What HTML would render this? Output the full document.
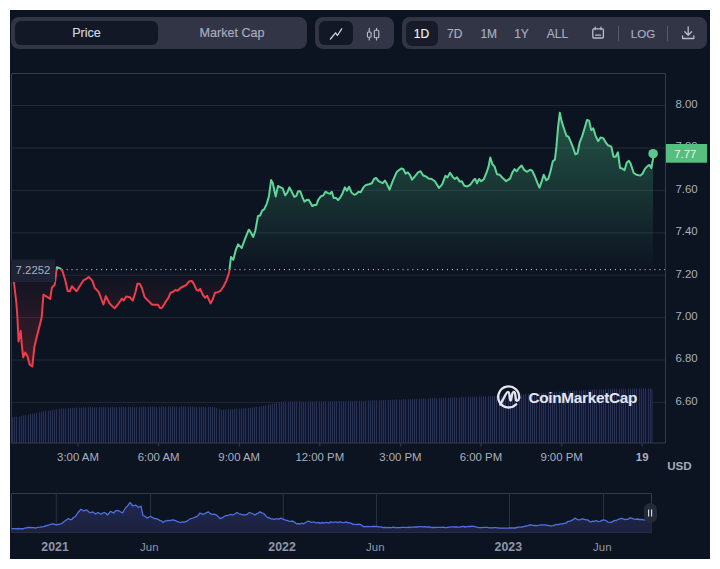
<!DOCTYPE html>
<html lang="en"><head><meta charset="utf-8"><title>Price chart</title>
<style>
html,body{margin:0;padding:0;background:#fff;}
body{width:720px;height:569px;position:relative;overflow:hidden;font-family:"Liberation Sans",Arial,sans-serif;}
.panel{position:absolute;left:10px;top:10px;width:700px;height:549px;background:#0d1421;}
.seg{position:absolute;top:17px;height:32px;background:#323546;border-radius:8px;}
.pill{position:absolute;top:4px;height:24px;background:#121826;border-radius:6px;}
.lbl{position:absolute;top:0;height:32px;line-height:32px;font-size:12.6px;color:#a9afc0;text-align:center;white-space:nowrap;-webkit-text-stroke:0.15px currentColor;}
.lbl.on{color:#d3d7e0;}
.lbl.w{color:#f2f4f8;}
.lbl.s{font-size:12px;line-height:34px;}
.div{position:absolute;top:9px;width:1px;height:15px;background:#555a6d;}
svg.chart{position:absolute;left:0;top:0;}
svg.ico{position:absolute;overflow:visible;}
.ax{font-family:"Liberation Sans",Arial,sans-serif;font-size:11.4px;fill:#a9afbf;}
.b{font-weight:bold;}
.nv{font-family:"Liberation Sans",Arial,sans-serif;font-size:11.4px;fill:#8f96a8;}
.yb{font-weight:bold;font-size:12.3px !important;}
.tag{font-family:"Liberation Sans",Arial,sans-serif;font-size:11.4px;fill:#e3f7ea;}
.usd{font-family:"Liberation Sans",Arial,sans-serif;font-size:11.6px;font-weight:bold;fill:#a3a9ba;}
.wm{font-family:"Liberation Sans",Arial,sans-serif;font-size:15.4px;font-weight:bold;fill:#e3e6ef;letter-spacing:-0.33px;}
</style></head>
<body>
<div class="panel"></div>

<div class="seg" style="left:11px;width:296px;">
  <div class="pill" style="left:4px;width:143px;"></div>
  <div class="lbl on" style="left:4px;width:143px;">Price</div>
  <div class="lbl" style="left:147px;width:148px;">Market Cap</div>
</div>

<div class="seg" style="left:315px;width:79px;">
  <div class="pill" style="left:4px;width:34px;"></div>
  <svg class="ico" style="left:0;top:0" width="79" height="32" viewBox="315 17 79 32">
    <path d="M330.4,39 L335.6,32.8 L337.4,35.5 L341.7,28.8" fill="none" stroke="#cdd1dc" stroke-width="1.3" stroke-linecap="round" stroke-linejoin="round"/>
    <g fill="none" stroke="#b4b9ca" stroke-width="1.15" stroke-linecap="round">
      <rect x="367.4" y="32" width="3.7" height="5.2" rx="1"/>
      <path d="M369.25,28.3 V32 M369.25,37.2 V39.9"/>
      <rect x="374.3" y="30.2" width="4.5" height="7.5" rx="1"/>
      <path d="M376.55,28.3 V30.2 M376.55,37.7 V39.9"/>
    </g>
  </svg>
</div>

<div class="seg" style="left:402px;width:305px;">
  <div class="pill" style="left:3.5px;width:32px;top:3.5px;height:25px;background:#181c2a;"></div>
  <div class="lbl w s" style="left:3.5px;width:32px;">1D</div>
  <div class="lbl s" style="left:36.75px;width:32px;">7D</div>
  <div class="lbl s" style="left:70.75px;width:32px;">1M</div>
  <div class="lbl s" style="left:103.5px;width:32px;">1Y</div>
  <div class="lbl s" style="left:135.5px;width:40px;">ALL</div>
  <svg class="ico" style="left:0;top:0" width="305" height="32" viewBox="402 17 305 32">
    <g fill="none" stroke="#b9bece" stroke-width="1.3" stroke-linecap="round" stroke-linejoin="round">
      <rect x="592.8" y="28.8" width="10.6" height="9.2" rx="1"/>
      <path d="M595.2,27.2 V29.6 M601,27.2 V29.6 M595.6,35.2 H600.6"/>
      <path d="M688.2,27 V35 M684.8,31.8 L688.2,35.2 L691.6,31.8 M682.6,35.8 V38.5 H693.8 V35.8"/>
    </g>
  </svg>
  <div class="div" style="left:216px;"></div>
  <div class="lbl s" style="left:221px;width:40px;font-size:11.5px;">LOG</div>
  <div class="div" style="left:265px;"></div>
</div>

<svg class="chart" width="720" height="569" viewBox="0 0 720 569">
<defs>
<linearGradient id="gG" gradientUnits="userSpaceOnUse" x1="0" y1="73.5" x2="0" y2="269.5"><stop offset="0" stop-color="#4ecb8c" stop-opacity="0.44"/><stop offset="1" stop-color="#4ecb8c" stop-opacity="0"/></linearGradient>
<linearGradient id="gR" gradientUnits="userSpaceOnUse" x1="0" y1="269.5" x2="0" y2="443"><stop offset="0" stop-color="#ea3943" stop-opacity="0"/><stop offset="1" stop-color="#ea3943" stop-opacity="0.42"/></linearGradient>
<linearGradient id="gN" gradientUnits="userSpaceOnUse" x1="0" y1="500" x2="0" y2="533"><stop offset="0" stop-color="#22284e"/><stop offset="1" stop-color="#1b213d"/></linearGradient>
<clipPath id="cA"><rect x="0" y="0" width="720" height="269.5"/></clipPath>
<clipPath id="cB"><rect x="0" y="269.5" width="720" height="300"/></clipPath>
</defs>
<line x1="11" y1="105.5" x2="666" y2="105.5" stroke="#222838" stroke-width="1"/>
<line x1="11" y1="148" x2="666" y2="148" stroke="#222838" stroke-width="1"/>
<line x1="11" y1="190.4" x2="666" y2="190.4" stroke="#222838" stroke-width="1"/>
<line x1="11" y1="232.8" x2="666" y2="232.8" stroke="#222838" stroke-width="1"/>
<line x1="11" y1="275.2" x2="666" y2="275.2" stroke="#222838" stroke-width="1"/>
<line x1="11" y1="317.6" x2="666" y2="317.6" stroke="#222838" stroke-width="1"/>
<line x1="11" y1="360" x2="666" y2="360" stroke="#222838" stroke-width="1"/>
<line x1="11" y1="402.4" x2="666" y2="402.4" stroke="#222838" stroke-width="1"/>
<path d="M12.0,417.4 L14.2,417.4 L14.2,417.3 L16.4,417.3 L16.4,417.2 L18.7,417.2 L18.7,417.0 L20.9,417.0 L20.9,416.5 L23.1,416.5 L23.1,415.9 L25.3,415.9 L25.3,415.4 L27.6,415.4 L27.6,414.8 L29.8,414.8 L29.8,414.3 L32.0,414.3 L32.0,413.9 L34.2,413.9 L34.2,413.5 L36.4,413.5 L36.4,413.1 L38.7,413.1 L38.7,412.7 L40.9,412.7 L40.9,412.3 L43.1,412.3 L43.1,411.8 L45.3,411.8 L45.3,411.5 L47.6,411.5 L47.6,411.1 L49.8,411.1 L49.8,410.7 L52.0,410.7 L52.0,410.3 L54.2,410.3 L54.2,410.0 L56.4,410.0 L56.4,409.6 L58.7,409.6 L58.7,409.2 L60.9,409.2 L60.9,408.9 L63.1,408.9 L63.1,408.8 L65.3,408.8 L65.3,408.7 L67.6,408.7 L67.6,408.5 L69.8,408.5 L69.8,408.4 L72.0,408.4 L72.0,408.2 L74.2,408.2 L74.2,408.1 L76.4,408.1 L76.4,408.0 L78.7,408.0 L78.7,407.8 L80.9,407.8 L80.9,407.8 L83.1,407.8 L83.1,407.8 L85.3,407.8 L85.3,407.7 L87.6,407.7 L87.6,407.7 L89.8,407.7 L89.8,407.7 L92.0,407.7 L92.0,407.7 L94.2,407.7 L94.2,407.7 L96.4,407.7 L96.4,407.7 L98.7,407.7 L98.7,407.6 L100.9,407.6 L100.9,407.6 L103.1,407.6 L103.1,407.6 L105.3,407.6 L105.3,407.6 L107.6,407.6 L107.6,407.6 L109.8,407.6 L109.8,407.6 L112.0,407.6 L112.0,407.5 L114.2,407.5 L114.2,407.5 L116.4,407.5 L116.4,407.5 L118.7,407.5 L118.7,407.5 L120.9,407.5 L120.9,407.5 L123.1,407.5 L123.1,407.4 L125.3,407.4 L125.3,407.4 L127.6,407.4 L127.6,407.4 L129.8,407.4 L129.8,407.4 L132.0,407.4 L132.0,407.4 L134.2,407.4 L134.2,407.4 L136.4,407.4 L136.4,407.3 L138.7,407.3 L138.7,407.3 L140.9,407.3 L140.9,407.3 L143.1,407.3 L143.1,407.3 L145.3,407.3 L145.3,407.3 L147.6,407.3 L147.6,407.3 L149.8,407.3 L149.8,407.2 L152.0,407.2 L152.0,407.2 L154.2,407.2 L154.2,407.2 L156.4,407.2 L156.4,407.2 L158.7,407.2 L158.7,407.2 L160.9,407.2 L160.9,407.1 L163.1,407.1 L163.1,407.1 L165.3,407.1 L165.3,407.1 L167.6,407.1 L167.6,407.1 L169.8,407.1 L169.8,407.1 L172.0,407.1 L172.0,407.1 L174.2,407.1 L174.2,407.0 L176.4,407.0 L176.4,407.0 L178.7,407.0 L178.7,407.0 L180.9,407.0 L180.9,407.0 L183.1,407.0 L183.1,407.1 L185.3,407.1 L185.3,407.1 L187.6,407.1 L187.6,407.1 L189.8,407.1 L189.8,407.2 L192.0,407.2 L192.0,407.2 L194.2,407.2 L194.2,407.2 L196.4,407.2 L196.4,407.3 L198.7,407.3 L198.7,407.3 L200.9,407.3 L200.9,407.3 L203.1,407.3 L203.1,407.3 L205.3,407.3 L205.3,407.4 L207.6,407.4 L207.6,407.4 L209.8,407.4 L209.8,407.4 L212.0,407.4 L212.0,407.5 L214.2,407.5 L214.2,407.6 L216.4,407.6 L216.4,408.4 L218.7,408.4 L218.7,409.2 L220.9,409.2 L220.9,410.0 L223.1,410.0 L223.1,409.9 L225.3,409.9 L225.3,409.7 L227.6,409.7 L227.6,409.6 L229.8,409.6 L229.8,409.5 L232.0,409.5 L232.0,409.4 L234.2,409.4 L234.2,409.3 L236.4,409.3 L236.4,409.1 L238.7,409.1 L238.7,409.0 L240.9,409.0 L240.9,408.9 L243.1,408.9 L243.1,408.8 L245.3,408.8 L245.3,408.6 L247.6,408.6 L247.6,408.4 L249.8,408.4 L249.8,408.1 L252.0,408.1 L252.0,407.8 L254.2,407.8 L254.2,407.6 L256.4,407.6 L256.4,407.3 L258.7,407.3 L258.7,407.0 L260.9,407.0 L260.9,406.6 L263.1,406.6 L263.1,406.1 L265.3,406.1 L265.3,405.6 L267.6,405.6 L267.6,405.2 L269.8,405.2 L269.8,404.7 L272.0,404.7 L272.0,404.2 L274.2,404.2 L274.2,403.7 L276.4,403.7 L276.4,403.1 L278.7,403.1 L278.7,402.6 L280.9,402.6 L280.9,402.0 L283.1,402.0 L283.1,402.0 L285.3,402.0 L285.3,402.0 L287.6,402.0 L287.6,401.9 L289.8,401.9 L289.8,401.9 L292.0,401.9 L292.0,401.9 L294.2,401.9 L294.2,401.9 L296.4,401.9 L296.4,401.9 L298.7,401.9 L298.7,401.8 L300.9,401.8 L300.9,401.8 L303.1,401.8 L303.1,401.8 L305.3,401.8 L305.3,401.8 L307.6,401.8 L307.6,401.8 L309.8,401.8 L309.8,401.7 L312.0,401.7 L312.0,401.7 L314.2,401.7 L314.2,401.7 L316.4,401.7 L316.4,401.7 L318.7,401.7 L318.7,401.7 L320.9,401.7 L320.9,401.6 L323.1,401.6 L323.1,401.6 L325.3,401.6 L325.3,401.6 L327.6,401.6 L327.6,401.6 L329.8,401.6 L329.8,401.6 L332.0,401.6 L332.0,401.5 L334.2,401.5 L334.2,401.5 L336.4,401.5 L336.4,401.5 L338.7,401.5 L338.7,401.5 L340.9,401.5 L340.9,401.5 L343.1,401.5 L343.1,401.4 L345.3,401.4 L345.3,401.4 L347.6,401.4 L347.6,401.4 L349.8,401.4 L349.8,401.4 L352.0,401.4 L352.0,401.4 L354.2,401.4 L354.2,401.3 L356.4,401.3 L356.4,401.3 L358.7,401.3 L358.7,401.3 L360.9,401.3 L360.9,401.2 L363.1,401.2 L363.1,401.2 L365.3,401.2 L365.3,401.1 L367.6,401.1 L367.6,401.0 L369.8,401.0 L369.8,400.9 L372.0,400.9 L372.0,400.8 L374.2,400.8 L374.2,400.8 L376.4,400.8 L376.4,400.7 L378.7,400.7 L378.7,400.6 L380.9,400.6 L380.9,400.5 L383.1,400.5 L383.1,400.4 L385.3,400.4 L385.3,400.4 L387.6,400.4 L387.6,400.3 L389.8,400.3 L389.8,400.2 L392.0,400.2 L392.0,400.1 L394.2,400.1 L394.2,400.1 L396.4,400.1 L396.4,400.0 L398.7,400.0 L398.7,399.9 L400.9,399.9 L400.9,399.8 L403.1,399.8 L403.1,399.7 L405.3,399.7 L405.3,399.7 L407.6,399.7 L407.6,399.6 L409.8,399.6 L409.8,399.5 L412.0,399.5 L412.0,399.4 L414.2,399.4 L414.2,399.3 L416.4,399.3 L416.4,399.3 L418.7,399.3 L418.7,399.2 L420.9,399.2 L420.9,399.1 L423.1,399.1 L423.1,399.0 L425.3,399.0 L425.3,399.0 L427.6,399.0 L427.6,398.9 L429.8,398.9 L429.8,398.8 L432.0,398.8 L432.0,398.7 L434.2,398.7 L434.2,398.6 L436.4,398.6 L436.4,398.6 L438.7,398.6 L438.7,398.5 L440.9,398.5 L440.9,398.4 L443.1,398.4 L443.1,398.3 L445.3,398.3 L445.3,398.2 L447.6,398.2 L447.6,398.2 L449.8,398.2 L449.8,398.1 L452.0,398.1 L452.0,398.0 L454.2,398.0 L454.2,397.9 L456.4,397.9 L456.4,397.8 L458.7,397.8 L458.7,397.7 L460.9,397.7 L460.9,397.6 L463.1,397.6 L463.1,397.5 L465.3,397.5 L465.3,397.4 L467.6,397.4 L467.6,397.3 L469.8,397.3 L469.8,397.2 L472.0,397.2 L472.0,397.2 L474.2,397.2 L474.2,397.1 L476.4,397.1 L476.4,397.0 L478.7,397.0 L478.7,396.9 L480.9,396.9 L480.9,396.8 L483.1,396.8 L483.1,396.8 L485.3,396.8 L485.3,396.7 L487.6,396.7 L487.6,396.6 L489.8,396.6 L489.8,396.6 L492.0,396.6 L492.0,396.5 L494.2,396.5 L494.2,396.4 L496.4,396.4 L496.4,396.4 L498.7,396.4 L498.7,396.3 L500.9,396.3 L500.9,396.2 L503.1,396.2 L503.1,396.0 L505.3,396.0 L505.3,395.8 L507.6,395.8 L507.6,395.7 L509.8,395.7 L509.8,395.5 L512.0,395.5 L512.0,395.4 L514.2,395.4 L514.2,395.2 L516.4,395.2 L516.4,395.1 L518.7,395.1 L518.7,394.9 L520.9,394.9 L520.9,394.7 L523.1,394.7 L523.1,394.6 L525.3,394.6 L525.3,394.4 L527.6,394.4 L527.6,394.3 L529.8,394.3 L529.8,394.1 L532.0,394.1 L532.0,394.0 L534.2,394.0 L534.2,393.8 L536.4,393.8 L536.4,393.6 L538.7,393.6 L538.7,393.5 L540.9,393.5 L540.9,393.3 L543.1,393.3 L543.1,393.2 L545.3,393.2 L545.3,393.0 L547.6,393.0 L547.6,392.9 L549.8,392.9 L549.8,392.7 L552.0,392.7 L552.0,392.5 L554.2,392.5 L554.2,392.4 L556.4,392.4 L556.4,392.2 L558.7,392.2 L558.7,392.1 L560.9,392.1 L560.9,391.9 L563.1,391.9 L563.1,391.8 L565.3,391.8 L565.3,391.6 L567.6,391.6 L567.6,391.4 L569.8,391.4 L569.8,391.3 L572.0,391.3 L572.0,391.1 L574.2,391.1 L574.2,391.0 L576.4,391.0 L576.4,390.9 L578.7,390.9 L578.7,390.8 L580.9,390.8 L580.9,390.7 L583.1,390.7 L583.1,390.6 L585.3,390.6 L585.3,390.4 L587.6,390.4 L587.6,390.3 L589.8,390.3 L589.8,390.2 L592.0,390.2 L592.0,390.1 L594.2,390.1 L594.2,390.0 L596.4,390.0 L596.4,389.9 L598.7,389.9 L598.7,389.8 L600.9,389.8 L600.9,389.7 L603.1,389.7 L603.1,389.6 L605.3,389.6 L605.3,389.5 L607.6,389.5 L607.6,389.4 L609.8,389.4 L609.8,389.3 L612.0,389.3 L612.0,389.3 L614.2,389.3 L614.2,389.2 L616.4,389.2 L616.4,389.2 L618.7,389.2 L618.7,389.2 L620.9,389.2 L620.9,389.2 L623.1,389.2 L623.1,389.1 L625.3,389.1 L625.3,389.1 L627.6,389.1 L627.6,389.1 L629.8,389.1 L629.8,389.1 L632.0,389.1 L632.0,389.0 L634.2,389.0 L634.2,389.0 L636.4,389.0 L636.4,389.0 L638.7,389.0 L638.7,388.9 L640.9,388.9 L640.9,388.9 L643.1,388.9 L643.1,388.9 L645.3,388.9 L645.3,388.9 L647.6,388.9 L647.6,388.8 L649.8,388.8 L649.8,388.8 L652.0,388.8 L652.0,443 L12.0,443 Z" fill="#0e1532"/>
<path d="M12.5,417.0V443 M14.5,416.9V443 M16.5,416.8V443 M19.5,416.6V443 M21.5,416.1V443 M23.5,415.5V443 M25.5,415.0V443 M28.5,414.4V443 M30.5,413.9V443 M32.5,413.5V443 M34.5,413.1V443 M36.5,412.7V443 M39.5,412.3V443 M41.5,411.9V443 M43.5,411.4V443 M45.5,411.1V443 M48.5,410.7V443 M50.5,410.3V443 M52.5,409.9V443 M54.5,409.6V443 M56.5,409.2V443 M59.5,408.8V443 M61.5,408.5V443 M63.5,408.4V443 M65.5,408.3V443 M68.5,408.1V443 M70.5,408.0V443 M72.5,407.8V443 M74.5,407.7V443 M76.5,407.6V443 M79.5,407.4V443 M81.5,407.4V443 M83.5,407.4V443 M85.5,407.3V443 M88.5,407.3V443 M90.5,407.3V443 M92.5,407.3V443 M94.5,407.3V443 M96.5,407.3V443 M99.5,407.2V443 M101.5,407.2V443 M103.5,407.2V443 M105.5,407.2V443 M108.5,407.2V443 M110.5,407.2V443 M112.5,407.1V443 M114.5,407.1V443 M116.5,407.1V443 M119.5,407.1V443 M121.5,407.1V443 M123.5,407.0V443 M125.5,407.0V443 M128.5,407.0V443 M130.5,407.0V443 M132.5,407.0V443 M134.5,407.0V443 M136.5,406.9V443 M139.5,406.9V443 M141.5,406.9V443 M143.5,406.9V443 M145.5,406.9V443 M148.5,406.9V443 M150.5,406.8V443 M152.5,406.8V443 M154.5,406.8V443 M156.5,406.8V443 M159.5,406.8V443 M161.5,406.7V443 M163.5,406.7V443 M165.5,406.7V443 M168.5,406.7V443 M170.5,406.7V443 M172.5,406.7V443 M174.5,406.6V443 M176.5,406.6V443 M179.5,406.6V443 M181.5,406.6V443 M183.5,406.7V443 M185.5,406.7V443 M188.5,406.7V443 M190.5,406.8V443 M192.5,406.8V443 M194.5,406.8V443 M196.5,406.9V443 M199.5,406.9V443 M201.5,406.9V443 M203.5,406.9V443 M205.5,407.0V443 M208.5,407.0V443 M210.5,407.0V443 M212.5,407.1V443 M214.5,407.2V443 M216.5,408.0V443 M219.5,408.8V443 M221.5,409.6V443 M223.5,409.5V443 M225.5,409.3V443 M228.5,409.2V443 M230.5,409.1V443 M232.5,409.0V443 M234.5,408.9V443 M236.5,408.7V443 M239.5,408.6V443 M241.5,408.5V443 M243.5,408.4V443 M245.5,408.2V443 M248.5,408.0V443 M250.5,407.7V443 M252.5,407.4V443 M254.5,407.2V443 M256.5,406.9V443 M259.5,406.6V443 M261.5,406.2V443 M263.5,405.7V443 M265.5,405.2V443 M268.5,404.8V443 M270.5,404.3V443 M272.5,403.8V443 M274.5,403.3V443 M276.5,402.7V443 M279.5,402.2V443 M281.5,401.6V443 M283.5,401.6V443 M285.5,401.6V443 M288.5,401.5V443 M290.5,401.5V443 M292.5,401.5V443 M294.5,401.5V443 M296.5,401.5V443 M299.5,401.4V443 M301.5,401.4V443 M303.5,401.4V443 M305.5,401.4V443 M308.5,401.4V443 M310.5,401.3V443 M312.5,401.3V443 M314.5,401.3V443 M316.5,401.3V443 M319.5,401.3V443 M321.5,401.2V443 M323.5,401.2V443 M325.5,401.2V443 M328.5,401.2V443 M330.5,401.2V443 M332.5,401.1V443 M334.5,401.1V443 M336.5,401.1V443 M339.5,401.1V443 M341.5,401.1V443 M343.5,401.0V443 M345.5,401.0V443 M348.5,401.0V443 M350.5,401.0V443 M352.5,401.0V443 M354.5,400.9V443 M356.5,400.9V443 M359.5,400.9V443 M361.5,400.8V443 M363.5,400.8V443 M365.5,400.7V443 M368.5,400.6V443 M370.5,400.5V443 M372.5,400.4V443 M374.5,400.4V443 M376.5,400.3V443 M379.5,400.2V443 M381.5,400.1V443 M383.5,400.0V443 M385.5,400.0V443 M388.5,399.9V443 M390.5,399.8V443 M392.5,399.7V443 M394.5,399.7V443 M396.5,399.6V443 M399.5,399.5V443 M401.5,399.4V443 M403.5,399.3V443 M405.5,399.3V443 M408.5,399.2V443 M410.5,399.1V443 M412.5,399.0V443 M414.5,398.9V443 M416.5,398.9V443 M419.5,398.8V443 M421.5,398.7V443 M423.5,398.6V443 M425.5,398.6V443 M428.5,398.5V443 M430.5,398.4V443 M432.5,398.3V443 M434.5,398.2V443 M436.5,398.2V443 M439.5,398.1V443 M441.5,398.0V443 M443.5,397.9V443 M445.5,397.8V443 M448.5,397.8V443 M450.5,397.7V443 M452.5,397.6V443 M454.5,397.5V443 M456.5,397.4V443 M459.5,397.3V443 M461.5,397.2V443 M463.5,397.1V443 M465.5,397.0V443 M468.5,396.9V443 M470.5,396.8V443 M472.5,396.8V443 M474.5,396.7V443 M476.5,396.6V443 M479.5,396.5V443 M481.5,396.4V443 M483.5,396.4V443 M485.5,396.3V443 M488.5,396.2V443 M490.5,396.2V443 M492.5,396.1V443 M494.5,396.0V443 M496.5,396.0V443 M499.5,395.9V443 M501.5,395.8V443 M503.5,395.6V443 M505.5,395.4V443 M508.5,395.3V443 M510.5,395.1V443 M512.5,395.0V443 M514.5,394.8V443 M516.5,394.7V443 M519.5,394.5V443 M521.5,394.3V443 M523.5,394.2V443 M525.5,394.0V443 M528.5,393.9V443 M530.5,393.7V443 M532.5,393.6V443 M534.5,393.4V443 M536.5,393.2V443 M539.5,393.1V443 M541.5,392.9V443 M543.5,392.8V443 M545.5,392.6V443 M548.5,392.5V443 M550.5,392.3V443 M552.5,392.1V443 M554.5,392.0V443 M556.5,391.8V443 M559.5,391.7V443 M561.5,391.5V443 M563.5,391.4V443 M565.5,391.2V443 M568.5,391.0V443 M570.5,390.9V443 M572.5,390.7V443 M574.5,390.6V443 M576.5,390.5V443 M579.5,390.4V443 M581.5,390.3V443 M583.5,390.2V443 M585.5,390.0V443 M588.5,389.9V443 M590.5,389.8V443 M592.5,389.7V443 M594.5,389.6V443 M596.5,389.5V443 M599.5,389.4V443 M601.5,389.3V443 M603.5,389.2V443 M605.5,389.1V443 M608.5,389.0V443 M610.5,388.9V443 M612.5,388.9V443 M614.5,388.8V443 M616.5,388.8V443 M619.5,388.8V443 M621.5,388.8V443 M623.5,388.7V443 M625.5,388.7V443 M628.5,388.7V443 M630.5,388.7V443 M632.5,388.6V443 M634.5,388.6V443 M636.5,388.6V443 M639.5,388.5V443 M641.5,388.5V443 M643.5,388.5V443 M645.5,388.5V443 M648.5,388.4V443 M650.5,388.4V443 M652.00,388.8V443" stroke="#283250" stroke-width="1" fill="none"/>
<path d="M13.9,282.0 L16.4,303.5 L17.5,318.3 L18.5,341.5 L20.7,331.0 L21.7,343.6 L23.2,357.3 L25.3,352.5 L27.4,356.3 L29.7,364.7 L32.3,366.4 L34.4,346.8 L37.5,334.1 L40.7,321.5 L41.8,316.2 L43.4,294.7 L47.0,296.8 L50.2,298.9 L51.9,287.7 L54.8,284.5 L56.9,267.2 L59.7,268.1 L62.4,270.8 L65.0,279.3 L67.7,290.9 L69.8,291.3 L71.9,286.2 L76.6,291.3 L80.8,284.5 L83.5,280.3 L86.2,278.9 L88.6,276.9 L92.3,280.6 L94.8,288.0 L98.5,291.7 L103.4,304.5 L105.9,296.1 L109.6,303.5 L114.5,308.4 L118.2,304.0 L121.9,298.6 L123.7,300.6 L126.2,296.4 L129.8,297.2 L132.7,300.6 L135.5,292.2 L137.4,283.7 L139.7,283.7 L141.9,288.0 L144.7,297.2 L148.1,300.6 L152.3,304.8 L158.0,304.8 L160.2,308.2 L162.2,307.6 L165.0,302.9 L168.4,297.8 L170.6,292.7 L173.4,291.6 L175.4,289.9 L177.6,290.8 L180.4,288.0 L183.3,286.5 L186.1,285.1 L188.9,281.5 L191.7,280.9 L193.7,283.7 L196.5,289.9 L198.7,290.8 L200.1,288.8 L202.9,295.0 L205.2,297.8 L207.2,295.8 L210.5,303.4 L212.8,299.2 L215.0,292.7 L217.8,292.2 L220.6,290.8 L223.5,286.5 L226.3,280.9 L229.1,272.5 L229.6,268.3 L231.0,257.0 L233.3,259.8 L235.8,250.0 L238.1,244.4 L241.7,248.0 L245.1,238.7 L248.8,229.7 L250.0,231.1 L253.2,237.0 L255.3,230.7 L258.0,215.9 L260.1,215.5 L262.2,210.6 L264.3,209.2 L266.9,203.3 L269.0,195.9 L271.1,180.1 L272.8,183.2 L275.7,196.5 L278.0,186.0 L280.6,187.4 L282.7,188.5 L285.2,195.3 L287.3,192.7 L289.4,187.4 L291.7,191.7 L294.3,196.9 L296.4,195.9 L298.1,191.2 L300.2,191.2 L302.3,196.9 L304.4,201.6 L306.5,200.1 L308.6,199.7 L310.7,203.3 L312.2,206.0 L314.3,205.0 L316.4,205.0 L318.1,200.1 L320.6,196.5 L323.4,195.3 L325.5,191.7 L328.0,193.1 L330.1,193.8 L331.8,191.7 L333.7,198.0 L336.0,198.0 L338.1,200.1 L340.7,196.9 L342.8,192.7 L344.9,187.4 L347.0,190.6 L349.1,186.8 L351.6,192.7 L354.4,194.8 L356.5,193.8 L358.6,191.7 L360.7,192.3 L363.4,187.4 L366.0,184.9 L369.1,184.3 L371.9,183.2 L374.0,179.0 L376.1,178.0 L378.6,181.1 L380.7,182.2 L382.8,183.2 L384.9,180.5 L387.1,184.3 L389.5,189.6 L392.7,181.2 L396.9,171.7 L401.1,168.5 L403.2,168.9 L405.7,173.8 L407.8,172.3 L409.9,174.8 L412.0,179.7 L414.8,176.5 L418.0,172.3 L420.5,171.2 L423.2,175.5 L426.0,176.5 L428.5,178.6 L431.7,179.0 L434.8,181.2 L439.0,187.9 L442.2,184.3 L445.4,175.9 L447.5,177.4 L450.0,172.7 L452.7,176.9 L454.8,179.0 L457.0,177.4 L459.7,181.6 L461.8,181.2 L464.3,185.8 L467.5,186.4 L470.7,184.3 L473.8,179.7 L475.3,179.0 L477.0,183.3 L479.1,179.0 L481.2,181.2 L483.7,179.5 L486.5,172.7 L488.6,166.4 L490.3,157.5 L492.4,164.3 L494.5,166.4 L497.0,174.2 L499.8,174.8 L502.7,178.0 L506.1,181.2 L510.0,178.6 L512.5,172.2 L514.6,169.1 L516.7,171.2 L518.9,168.0 L521.6,165.5 L524.3,170.1 L527.3,171.8 L530.0,169.7 L532.1,170.6 L534.9,176.5 L537.4,182.8 L539.5,187.6 L541.6,181.7 L543.7,174.8 L546.3,180.3 L548.4,178.6 L550.5,171.2 L552.8,161.3 L554.9,159.6 L556.4,146.9 L558.1,126.9 L559.8,112.8 L561.7,121.6 L563.8,128.0 L566.5,136.0 L568.6,136.8 L571.1,142.7 L573.2,148.0 L575.4,154.3 L577.5,153.3 L579.6,142.7 L582.1,136.4 L584.8,127.5 L587.0,119.9 L589.1,120.6 L591.2,130.1 L593.3,128.4 L595.4,135.3 L598.1,141.2 L600.7,137.4 L603.2,138.1 L605.9,142.7 L608.0,145.3 L611.3,146.6 L613.5,156.7 L615.7,156.7 L617.9,152.3 L620.1,168.1 L622.3,168.6 L624.5,170.3 L626.7,162.8 L628.9,160.8 L630.7,163.7 L633.7,173.0 L636.4,174.7 L640.3,175.6 L642.5,173.8 L645.1,168.6 L647.8,165.9 L649.5,165.0 L651.3,168.1 L653.1,158.5 L653.1,153.6 L653.1,269.5 L13.9,269.5 Z" fill="url(#gG)" clip-path="url(#cA)"/>
<path d="M13.9,282.0 L16.4,303.5 L17.5,318.3 L18.5,341.5 L20.7,331.0 L21.7,343.6 L23.2,357.3 L25.3,352.5 L27.4,356.3 L29.7,364.7 L32.3,366.4 L34.4,346.8 L37.5,334.1 L40.7,321.5 L41.8,316.2 L43.4,294.7 L47.0,296.8 L50.2,298.9 L51.9,287.7 L54.8,284.5 L56.9,267.2 L59.7,268.1 L62.4,270.8 L65.0,279.3 L67.7,290.9 L69.8,291.3 L71.9,286.2 L76.6,291.3 L80.8,284.5 L83.5,280.3 L86.2,278.9 L88.6,276.9 L92.3,280.6 L94.8,288.0 L98.5,291.7 L103.4,304.5 L105.9,296.1 L109.6,303.5 L114.5,308.4 L118.2,304.0 L121.9,298.6 L123.7,300.6 L126.2,296.4 L129.8,297.2 L132.7,300.6 L135.5,292.2 L137.4,283.7 L139.7,283.7 L141.9,288.0 L144.7,297.2 L148.1,300.6 L152.3,304.8 L158.0,304.8 L160.2,308.2 L162.2,307.6 L165.0,302.9 L168.4,297.8 L170.6,292.7 L173.4,291.6 L175.4,289.9 L177.6,290.8 L180.4,288.0 L183.3,286.5 L186.1,285.1 L188.9,281.5 L191.7,280.9 L193.7,283.7 L196.5,289.9 L198.7,290.8 L200.1,288.8 L202.9,295.0 L205.2,297.8 L207.2,295.8 L210.5,303.4 L212.8,299.2 L215.0,292.7 L217.8,292.2 L220.6,290.8 L223.5,286.5 L226.3,280.9 L229.1,272.5 L229.6,268.3 L231.0,257.0 L233.3,259.8 L235.8,250.0 L238.1,244.4 L241.7,248.0 L245.1,238.7 L248.8,229.7 L250.0,231.1 L253.2,237.0 L255.3,230.7 L258.0,215.9 L260.1,215.5 L262.2,210.6 L264.3,209.2 L266.9,203.3 L269.0,195.9 L271.1,180.1 L272.8,183.2 L275.7,196.5 L278.0,186.0 L280.6,187.4 L282.7,188.5 L285.2,195.3 L287.3,192.7 L289.4,187.4 L291.7,191.7 L294.3,196.9 L296.4,195.9 L298.1,191.2 L300.2,191.2 L302.3,196.9 L304.4,201.6 L306.5,200.1 L308.6,199.7 L310.7,203.3 L312.2,206.0 L314.3,205.0 L316.4,205.0 L318.1,200.1 L320.6,196.5 L323.4,195.3 L325.5,191.7 L328.0,193.1 L330.1,193.8 L331.8,191.7 L333.7,198.0 L336.0,198.0 L338.1,200.1 L340.7,196.9 L342.8,192.7 L344.9,187.4 L347.0,190.6 L349.1,186.8 L351.6,192.7 L354.4,194.8 L356.5,193.8 L358.6,191.7 L360.7,192.3 L363.4,187.4 L366.0,184.9 L369.1,184.3 L371.9,183.2 L374.0,179.0 L376.1,178.0 L378.6,181.1 L380.7,182.2 L382.8,183.2 L384.9,180.5 L387.1,184.3 L389.5,189.6 L392.7,181.2 L396.9,171.7 L401.1,168.5 L403.2,168.9 L405.7,173.8 L407.8,172.3 L409.9,174.8 L412.0,179.7 L414.8,176.5 L418.0,172.3 L420.5,171.2 L423.2,175.5 L426.0,176.5 L428.5,178.6 L431.7,179.0 L434.8,181.2 L439.0,187.9 L442.2,184.3 L445.4,175.9 L447.5,177.4 L450.0,172.7 L452.7,176.9 L454.8,179.0 L457.0,177.4 L459.7,181.6 L461.8,181.2 L464.3,185.8 L467.5,186.4 L470.7,184.3 L473.8,179.7 L475.3,179.0 L477.0,183.3 L479.1,179.0 L481.2,181.2 L483.7,179.5 L486.5,172.7 L488.6,166.4 L490.3,157.5 L492.4,164.3 L494.5,166.4 L497.0,174.2 L499.8,174.8 L502.7,178.0 L506.1,181.2 L510.0,178.6 L512.5,172.2 L514.6,169.1 L516.7,171.2 L518.9,168.0 L521.6,165.5 L524.3,170.1 L527.3,171.8 L530.0,169.7 L532.1,170.6 L534.9,176.5 L537.4,182.8 L539.5,187.6 L541.6,181.7 L543.7,174.8 L546.3,180.3 L548.4,178.6 L550.5,171.2 L552.8,161.3 L554.9,159.6 L556.4,146.9 L558.1,126.9 L559.8,112.8 L561.7,121.6 L563.8,128.0 L566.5,136.0 L568.6,136.8 L571.1,142.7 L573.2,148.0 L575.4,154.3 L577.5,153.3 L579.6,142.7 L582.1,136.4 L584.8,127.5 L587.0,119.9 L589.1,120.6 L591.2,130.1 L593.3,128.4 L595.4,135.3 L598.1,141.2 L600.7,137.4 L603.2,138.1 L605.9,142.7 L608.0,145.3 L611.3,146.6 L613.5,156.7 L615.7,156.7 L617.9,152.3 L620.1,168.1 L622.3,168.6 L624.5,170.3 L626.7,162.8 L628.9,160.8 L630.7,163.7 L633.7,173.0 L636.4,174.7 L640.3,175.6 L642.5,173.8 L645.1,168.6 L647.8,165.9 L649.5,165.0 L651.3,168.1 L653.1,158.5 L653.1,153.6 L653.1,269.5 L13.9,269.5 Z" fill="url(#gR)" clip-path="url(#cB)"/>
<line x1="57.2" y1="269.5" x2="666" y2="269.5" stroke="#d4d7de" stroke-width="1.25" stroke-linecap="round" stroke-dasharray="0.01 4.93"/>
<path d="M13.9,282.0 L16.4,303.5 L17.5,318.3 L18.5,341.5 L20.7,331.0 L21.7,343.6 L23.2,357.3 L25.3,352.5 L27.4,356.3 L29.7,364.7 L32.3,366.4 L34.4,346.8 L37.5,334.1 L40.7,321.5 L41.8,316.2 L43.4,294.7 L47.0,296.8 L50.2,298.9 L51.9,287.7 L54.8,284.5 L56.9,267.2 L59.7,268.1 L62.4,270.8 L65.0,279.3 L67.7,290.9 L69.8,291.3 L71.9,286.2 L76.6,291.3 L80.8,284.5 L83.5,280.3 L86.2,278.9 L88.6,276.9 L92.3,280.6 L94.8,288.0 L98.5,291.7 L103.4,304.5 L105.9,296.1 L109.6,303.5 L114.5,308.4 L118.2,304.0 L121.9,298.6 L123.7,300.6 L126.2,296.4 L129.8,297.2 L132.7,300.6 L135.5,292.2 L137.4,283.7 L139.7,283.7 L141.9,288.0 L144.7,297.2 L148.1,300.6 L152.3,304.8 L158.0,304.8 L160.2,308.2 L162.2,307.6 L165.0,302.9 L168.4,297.8 L170.6,292.7 L173.4,291.6 L175.4,289.9 L177.6,290.8 L180.4,288.0 L183.3,286.5 L186.1,285.1 L188.9,281.5 L191.7,280.9 L193.7,283.7 L196.5,289.9 L198.7,290.8 L200.1,288.8 L202.9,295.0 L205.2,297.8 L207.2,295.8 L210.5,303.4 L212.8,299.2 L215.0,292.7 L217.8,292.2 L220.6,290.8 L223.5,286.5 L226.3,280.9 L229.1,272.5 L229.6,268.3 L231.0,257.0 L233.3,259.8 L235.8,250.0 L238.1,244.4 L241.7,248.0 L245.1,238.7 L248.8,229.7 L250.0,231.1 L253.2,237.0 L255.3,230.7 L258.0,215.9 L260.1,215.5 L262.2,210.6 L264.3,209.2 L266.9,203.3 L269.0,195.9 L271.1,180.1 L272.8,183.2 L275.7,196.5 L278.0,186.0 L280.6,187.4 L282.7,188.5 L285.2,195.3 L287.3,192.7 L289.4,187.4 L291.7,191.7 L294.3,196.9 L296.4,195.9 L298.1,191.2 L300.2,191.2 L302.3,196.9 L304.4,201.6 L306.5,200.1 L308.6,199.7 L310.7,203.3 L312.2,206.0 L314.3,205.0 L316.4,205.0 L318.1,200.1 L320.6,196.5 L323.4,195.3 L325.5,191.7 L328.0,193.1 L330.1,193.8 L331.8,191.7 L333.7,198.0 L336.0,198.0 L338.1,200.1 L340.7,196.9 L342.8,192.7 L344.9,187.4 L347.0,190.6 L349.1,186.8 L351.6,192.7 L354.4,194.8 L356.5,193.8 L358.6,191.7 L360.7,192.3 L363.4,187.4 L366.0,184.9 L369.1,184.3 L371.9,183.2 L374.0,179.0 L376.1,178.0 L378.6,181.1 L380.7,182.2 L382.8,183.2 L384.9,180.5 L387.1,184.3 L389.5,189.6 L392.7,181.2 L396.9,171.7 L401.1,168.5 L403.2,168.9 L405.7,173.8 L407.8,172.3 L409.9,174.8 L412.0,179.7 L414.8,176.5 L418.0,172.3 L420.5,171.2 L423.2,175.5 L426.0,176.5 L428.5,178.6 L431.7,179.0 L434.8,181.2 L439.0,187.9 L442.2,184.3 L445.4,175.9 L447.5,177.4 L450.0,172.7 L452.7,176.9 L454.8,179.0 L457.0,177.4 L459.7,181.6 L461.8,181.2 L464.3,185.8 L467.5,186.4 L470.7,184.3 L473.8,179.7 L475.3,179.0 L477.0,183.3 L479.1,179.0 L481.2,181.2 L483.7,179.5 L486.5,172.7 L488.6,166.4 L490.3,157.5 L492.4,164.3 L494.5,166.4 L497.0,174.2 L499.8,174.8 L502.7,178.0 L506.1,181.2 L510.0,178.6 L512.5,172.2 L514.6,169.1 L516.7,171.2 L518.9,168.0 L521.6,165.5 L524.3,170.1 L527.3,171.8 L530.0,169.7 L532.1,170.6 L534.9,176.5 L537.4,182.8 L539.5,187.6 L541.6,181.7 L543.7,174.8 L546.3,180.3 L548.4,178.6 L550.5,171.2 L552.8,161.3 L554.9,159.6 L556.4,146.9 L558.1,126.9 L559.8,112.8 L561.7,121.6 L563.8,128.0 L566.5,136.0 L568.6,136.8 L571.1,142.7 L573.2,148.0 L575.4,154.3 L577.5,153.3 L579.6,142.7 L582.1,136.4 L584.8,127.5 L587.0,119.9 L589.1,120.6 L591.2,130.1 L593.3,128.4 L595.4,135.3 L598.1,141.2 L600.7,137.4 L603.2,138.1 L605.9,142.7 L608.0,145.3 L611.3,146.6 L613.5,156.7 L615.7,156.7 L617.9,152.3 L620.1,168.1 L622.3,168.6 L624.5,170.3 L626.7,162.8 L628.9,160.8 L630.7,163.7 L633.7,173.0 L636.4,174.7 L640.3,175.6 L642.5,173.8 L645.1,168.6 L647.8,165.9 L649.5,165.0 L651.3,168.1 L653.1,158.5 L653.1,153.6" fill="none" stroke="#60d598" stroke-width="2" stroke-linejoin="round" stroke-linecap="round" clip-path="url(#cA)"/>
<path d="M13.9,282.0 L16.4,303.5 L17.5,318.3 L18.5,341.5 L20.7,331.0 L21.7,343.6 L23.2,357.3 L25.3,352.5 L27.4,356.3 L29.7,364.7 L32.3,366.4 L34.4,346.8 L37.5,334.1 L40.7,321.5 L41.8,316.2 L43.4,294.7 L47.0,296.8 L50.2,298.9 L51.9,287.7 L54.8,284.5 L56.9,267.2 L59.7,268.1 L62.4,270.8 L65.0,279.3 L67.7,290.9 L69.8,291.3 L71.9,286.2 L76.6,291.3 L80.8,284.5 L83.5,280.3 L86.2,278.9 L88.6,276.9 L92.3,280.6 L94.8,288.0 L98.5,291.7 L103.4,304.5 L105.9,296.1 L109.6,303.5 L114.5,308.4 L118.2,304.0 L121.9,298.6 L123.7,300.6 L126.2,296.4 L129.8,297.2 L132.7,300.6 L135.5,292.2 L137.4,283.7 L139.7,283.7 L141.9,288.0 L144.7,297.2 L148.1,300.6 L152.3,304.8 L158.0,304.8 L160.2,308.2 L162.2,307.6 L165.0,302.9 L168.4,297.8 L170.6,292.7 L173.4,291.6 L175.4,289.9 L177.6,290.8 L180.4,288.0 L183.3,286.5 L186.1,285.1 L188.9,281.5 L191.7,280.9 L193.7,283.7 L196.5,289.9 L198.7,290.8 L200.1,288.8 L202.9,295.0 L205.2,297.8 L207.2,295.8 L210.5,303.4 L212.8,299.2 L215.0,292.7 L217.8,292.2 L220.6,290.8 L223.5,286.5 L226.3,280.9 L229.1,272.5 L229.6,268.3 L231.0,257.0 L233.3,259.8 L235.8,250.0 L238.1,244.4 L241.7,248.0 L245.1,238.7 L248.8,229.7 L250.0,231.1 L253.2,237.0 L255.3,230.7 L258.0,215.9 L260.1,215.5 L262.2,210.6 L264.3,209.2 L266.9,203.3 L269.0,195.9 L271.1,180.1 L272.8,183.2 L275.7,196.5 L278.0,186.0 L280.6,187.4 L282.7,188.5 L285.2,195.3 L287.3,192.7 L289.4,187.4 L291.7,191.7 L294.3,196.9 L296.4,195.9 L298.1,191.2 L300.2,191.2 L302.3,196.9 L304.4,201.6 L306.5,200.1 L308.6,199.7 L310.7,203.3 L312.2,206.0 L314.3,205.0 L316.4,205.0 L318.1,200.1 L320.6,196.5 L323.4,195.3 L325.5,191.7 L328.0,193.1 L330.1,193.8 L331.8,191.7 L333.7,198.0 L336.0,198.0 L338.1,200.1 L340.7,196.9 L342.8,192.7 L344.9,187.4 L347.0,190.6 L349.1,186.8 L351.6,192.7 L354.4,194.8 L356.5,193.8 L358.6,191.7 L360.7,192.3 L363.4,187.4 L366.0,184.9 L369.1,184.3 L371.9,183.2 L374.0,179.0 L376.1,178.0 L378.6,181.1 L380.7,182.2 L382.8,183.2 L384.9,180.5 L387.1,184.3 L389.5,189.6 L392.7,181.2 L396.9,171.7 L401.1,168.5 L403.2,168.9 L405.7,173.8 L407.8,172.3 L409.9,174.8 L412.0,179.7 L414.8,176.5 L418.0,172.3 L420.5,171.2 L423.2,175.5 L426.0,176.5 L428.5,178.6 L431.7,179.0 L434.8,181.2 L439.0,187.9 L442.2,184.3 L445.4,175.9 L447.5,177.4 L450.0,172.7 L452.7,176.9 L454.8,179.0 L457.0,177.4 L459.7,181.6 L461.8,181.2 L464.3,185.8 L467.5,186.4 L470.7,184.3 L473.8,179.7 L475.3,179.0 L477.0,183.3 L479.1,179.0 L481.2,181.2 L483.7,179.5 L486.5,172.7 L488.6,166.4 L490.3,157.5 L492.4,164.3 L494.5,166.4 L497.0,174.2 L499.8,174.8 L502.7,178.0 L506.1,181.2 L510.0,178.6 L512.5,172.2 L514.6,169.1 L516.7,171.2 L518.9,168.0 L521.6,165.5 L524.3,170.1 L527.3,171.8 L530.0,169.7 L532.1,170.6 L534.9,176.5 L537.4,182.8 L539.5,187.6 L541.6,181.7 L543.7,174.8 L546.3,180.3 L548.4,178.6 L550.5,171.2 L552.8,161.3 L554.9,159.6 L556.4,146.9 L558.1,126.9 L559.8,112.8 L561.7,121.6 L563.8,128.0 L566.5,136.0 L568.6,136.8 L571.1,142.7 L573.2,148.0 L575.4,154.3 L577.5,153.3 L579.6,142.7 L582.1,136.4 L584.8,127.5 L587.0,119.9 L589.1,120.6 L591.2,130.1 L593.3,128.4 L595.4,135.3 L598.1,141.2 L600.7,137.4 L603.2,138.1 L605.9,142.7 L608.0,145.3 L611.3,146.6 L613.5,156.7 L615.7,156.7 L617.9,152.3 L620.1,168.1 L622.3,168.6 L624.5,170.3 L626.7,162.8 L628.9,160.8 L630.7,163.7 L633.7,173.0 L636.4,174.7 L640.3,175.6 L642.5,173.8 L645.1,168.6 L647.8,165.9 L649.5,165.0 L651.3,168.1 L653.1,158.5 L653.1,153.6" fill="none" stroke="#f03d4b" stroke-width="2" stroke-linejoin="round" stroke-linecap="round" clip-path="url(#cB)"/>
<circle cx="653.1" cy="153.7" r="4.8" fill="#5cc98b"/>
<path d="M11.5,443 V73.5 H665.5 V443 Z" fill="none" stroke="#343a4d" stroke-width="1"/>
<line x1="78.0" y1="443" x2="78.0" y2="446.5" stroke="#343a4d" stroke-width="1"/>
<line x1="158.6" y1="443" x2="158.6" y2="446.5" stroke="#343a4d" stroke-width="1"/>
<line x1="239.2" y1="443" x2="239.2" y2="446.5" stroke="#343a4d" stroke-width="1"/>
<line x1="319.8" y1="443" x2="319.8" y2="446.5" stroke="#343a4d" stroke-width="1"/>
<line x1="400.4" y1="443" x2="400.4" y2="446.5" stroke="#343a4d" stroke-width="1"/>
<line x1="481.0" y1="443" x2="481.0" y2="446.5" stroke="#343a4d" stroke-width="1"/>
<line x1="561.6" y1="443" x2="561.6" y2="446.5" stroke="#343a4d" stroke-width="1"/>
<line x1="642.2" y1="443" x2="642.2" y2="446.5" stroke="#343a4d" stroke-width="1"/>
<text x="686.5" y="107.8" class="ax" text-anchor="middle">8.00</text>
<text x="686.5" y="150.3" class="ax" text-anchor="middle">7.80</text>
<text x="686.5" y="192.7" class="ax" text-anchor="middle">7.60</text>
<text x="686.5" y="235.1" class="ax" text-anchor="middle">7.40</text>
<text x="686.5" y="277.5" class="ax" text-anchor="middle">7.20</text>
<text x="686.5" y="319.9" class="ax" text-anchor="middle">7.00</text>
<text x="686.5" y="362.3" class="ax" text-anchor="middle">6.80</text>
<text x="686.5" y="404.7" class="ax" text-anchor="middle">6.60</text>
<rect x="666" y="144" width="41" height="18.7" fill="#56be7f"/>
<text x="685.3" y="157.7" class="tag" text-anchor="middle">7.77</text>
<text x="78.0" y="461" class="ax" text-anchor="middle">3:00 AM</text>
<text x="158.6" y="461" class="ax" text-anchor="middle">6:00 AM</text>
<text x="239.2" y="461" class="ax" text-anchor="middle">9:00 AM</text>
<text x="319.8" y="461" class="ax" text-anchor="middle">12:00 PM</text>
<text x="400.4" y="461" class="ax" text-anchor="middle">3:00 PM</text>
<text x="481.0" y="461" class="ax" text-anchor="middle">6:00 PM</text>
<text x="561.6" y="461" class="ax" text-anchor="middle">9:00 PM</text>
<text x="642.2" y="461" class="ax b" text-anchor="middle">19</text>
<text x="679.5" y="470" class="usd" text-anchor="middle">USD</text>
<rect x="11" y="259.5" width="44" height="22.5" fill="#1d2334"/>
<text x="33" y="274.4" class="ax" text-anchor="middle">7.2252</text>
<g fill="none" stroke="#e3e6ef" stroke-width="2.3" stroke-linecap="round" stroke-linejoin="round">
<path d="M516.25,404.3 A10.5,10.5 0 1 1 519.16,397.9"/>
<path d="M500.3,404.6 L505.5,394.7 C506.5,392.7 507.1,391.8 507.9,391.8 C508.8,391.8 509.1,392.8 509.3,394.2 L510,399.4 C510.2,400.9 510.8,400.9 511.1,399.4 L512.1,394.4 C512.5,392.6 513.0,391.8 513.8,391.8 C514.6,391.8 515.0,392.8 515.2,394.4 L515.8,399 C516.1,401.6 518.4,401.4 519.16,397.9"/>
</g>
<text x="528.5" y="402.7" class="wm">CoinMarketCap</text>
<path d="M11.5,493.5 H651.5 V532.5 H11.5 Z" fill="none" stroke="#343a4d" stroke-width="1"/>
<line x1="56.25" y1="493.5" x2="56.25" y2="532.5" stroke="#2a3042" stroke-width="1"/>
<text x="55.05" y="551.1" class="nv yb" text-anchor="middle">2021</text>
<line x1="150.5" y1="493.5" x2="150.5" y2="532.5" stroke="#2a3042" stroke-width="1"/>
<text x="149.3" y="551.1" class="nv" text-anchor="middle">Jun</text>
<line x1="283.25" y1="493.5" x2="283.25" y2="532.5" stroke="#2a3042" stroke-width="1"/>
<text x="282.05" y="551.1" class="nv yb" text-anchor="middle">2022</text>
<line x1="376.5" y1="493.5" x2="376.5" y2="532.5" stroke="#2a3042" stroke-width="1"/>
<text x="375.3" y="551.1" class="nv" text-anchor="middle">Jun</text>
<line x1="509.5" y1="493.5" x2="509.5" y2="532.5" stroke="#2a3042" stroke-width="1"/>
<text x="508.3" y="551.1" class="nv yb" text-anchor="middle">2023</text>
<line x1="603.5" y1="493.5" x2="603.5" y2="532.5" stroke="#2a3042" stroke-width="1"/>
<text x="602.3" y="551.1" class="nv" text-anchor="middle">Jun</text>
<path d="M11.5,528.8 L13.1,528.7 L14.8,528.6 L16.4,528.9 L18.1,528.5 L19.7,528.8 L21.4,528.7 L23.0,528.8 L24.7,528.1 L26.3,527.9 L28.0,527.5 L29.9,527.3 L31.8,527.7 L33.6,527.6 L35.5,528.0 L37.6,527.4 L39.7,527.2 L41.8,526.8 L43.9,526.6 L45.9,525.7 L48.0,525.5 L50.2,524.3 L52.5,523.8 L54.3,524.2 L56.2,524.9 L58.0,524.5 L59.9,524.1 L61.8,523.5 L63.6,521.9 L65.5,520.5 L68.5,518.5 L70.2,519.7 L71.8,519.5 L73.4,517.5 L75.0,516.8 L78.0,512.5 L81.0,509.3 L83.8,511.0 L86.3,509.8 L89.3,512.3 L90.9,512.6 L92.5,511.8 L95.5,514.0 L98.0,512.5 L101.0,514.3 L102.7,513.1 L104.3,512.5 L105.9,513.3 L107.5,515.0 L110.5,511.3 L113.5,513.0 L115.2,511.2 L116.8,510.5 L118.4,510.7 L120.0,511.5 L122.5,513.0 L125.5,508.0 L127.8,505.7 L130.0,502.5 L133.0,506.0 L135.5,505.0 L138.5,507.5 L141.0,506.0 L143.0,515.5 L144.9,516.3 L146.8,518.0 L148.7,517.3 L150.5,516.3 L152.4,517.6 L154.3,518.5 L156.2,518.7 L158.0,519.3 L159.7,520.4 L161.3,520.8 L163.0,522.5 L164.7,521.2 L166.3,520.8 L168.0,520.5 L169.7,520.6 L171.3,520.1 L173.0,520.0 L174.9,520.4 L176.8,521.4 L178.6,521.8 L180.5,522.5 L182.4,521.8 L184.4,522.1 L186.3,521.3 L188.0,520.6 L189.6,519.1 L191.3,518.5 L193.0,518.0 L194.6,517.4 L196.3,516.8 L198.2,515.4 L200.0,513.0 L201.9,514.0 L203.8,514.3 L206.1,512.8 L208.3,511.8 L210.4,513.7 L212.5,514.3 L214.4,514.1 L216.3,515.0 L218.2,516.6 L220.0,518.5 L221.9,518.0 L223.8,516.8 L225.5,515.7 L227.1,515.6 L228.8,515.0 L230.7,514.4 L232.5,515.0 L234.8,514.0 L237.0,512.5 L239.2,513.8 L241.3,514.3 L243.2,514.8 L245.0,515.0 L247.2,514.3 L249.5,512.5 L252.5,513.5 L255.0,515.0 L256.7,513.7 L258.3,513.1 L260.0,511.8 L261.9,512.8 L263.8,513.5 L265.6,515.6 L267.5,517.5 L269.2,517.9 L270.8,518.8 L272.5,518.8 L274.2,519.4 L275.8,518.8 L277.5,518.8 L279.2,519.0 L280.8,518.2 L282.5,518.8 L284.2,519.6 L285.8,520.1 L287.5,520.5 L289.2,521.4 L290.8,521.3 L292.5,521.0 L294.4,522.1 L296.3,523.8 L298.2,523.6 L300.1,524.0 L301.9,523.1 L303.8,523.8 L306.1,522.3 L308.3,521.0 L311.3,522.3 L313.0,522.1 L314.6,522.2 L316.3,523.0 L318.2,522.4 L320.1,523.4 L321.9,522.5 L323.8,523.0 L325.5,522.5 L327.3,522.6 L329.0,523.1 L330.8,521.9 L332.5,522.3 L334.4,522.1 L336.2,522.1 L338.1,522.5 L340.0,521.8 L341.9,522.4 L343.8,522.7 L345.6,522.0 L347.5,522.5 L349.4,522.8 L351.2,523.2 L353.1,524.4 L355.0,524.3 L356.7,524.6 L358.3,524.1 L360.0,524.3 L361.9,525.4 L363.8,526.8 L365.7,526.6 L367.5,526.5 L369.4,526.6 L371.3,526.7 L373.1,526.4 L375.0,526.5 L376.7,526.4 L378.3,526.8 L380.0,526.9 L381.7,527.2 L383.3,527.6 L385.0,527.5 L386.7,527.6 L388.3,527.5 L390.0,527.6 L391.7,527.6 L393.3,527.2 L395.0,527.7 L396.7,527.7 L398.3,527.7 L400.0,527.7 L401.7,527.4 L403.3,527.4 L405.0,527.3 L406.7,527.6 L408.3,527.2 L410.0,527.5 L411.8,527.1 L413.6,527.1 L415.4,527.0 L417.1,527.0 L418.9,526.7 L420.7,526.6 L422.5,526.8 L424.3,526.7 L426.1,526.8 L427.9,527.0 L429.6,526.9 L431.4,527.5 L433.2,527.5 L435.0,527.5 L436.7,527.3 L438.3,527.3 L440.0,527.3 L441.7,527.3 L443.3,527.1 L445.0,527.5 L446.7,527.6 L448.3,527.2 L450.0,527.2 L451.7,526.9 L453.3,526.9 L455.0,527.0 L456.7,526.9 L458.3,527.2 L460.0,527.0 L461.7,526.7 L463.4,526.5 L465.2,527.0 L466.9,526.7 L468.6,526.4 L470.4,526.5 L472.1,526.1 L473.8,526.3 L475.6,526.8 L477.5,527.3 L479.2,527.6 L480.8,527.6 L482.5,527.5 L484.2,527.3 L485.8,527.4 L487.5,527.4 L489.2,527.8 L490.8,527.7 L492.5,527.8 L494.2,527.6 L495.8,527.6 L497.5,527.8 L499.2,528.0 L501.0,528.1 L502.8,528.1 L504.5,528.1 L506.2,528.1 L508.0,528.1 L509.8,527.8 L511.5,528.0 L513.2,527.9 L515.0,528.0 L516.9,527.5 L518.8,527.2 L520.6,527.1 L522.5,527.0 L524.4,526.3 L526.2,526.0 L528.1,525.6 L530.0,524.8 L531.7,525.0 L533.3,525.5 L535.0,525.5 L536.9,525.6 L538.8,525.4 L540.6,524.9 L542.5,524.8 L544.3,524.9 L546.0,525.1 L547.8,525.3 L549.5,525.6 L551.3,526.0 L553.0,525.5 L554.6,525.1 L556.3,524.3 L558.4,524.6 L560.4,523.9 L562.5,523.8 L564.4,523.4 L566.2,523.0 L568.1,521.3 L570.0,521.3 L571.7,520.4 L573.3,519.7 L575.0,518.0 L576.9,519.3 L578.8,519.8 L580.6,519.7 L582.5,518.8 L584.4,519.3 L586.3,519.8 L588.0,520.0 L589.6,521.5 L591.3,521.8 L593.0,521.1 L594.6,521.4 L596.3,520.5 L598.1,521.6 L600.0,521.3 L601.9,520.4 L603.8,519.8 L605.9,520.5 L607.9,522.1 L610.0,522.3 L612.1,522.0 L614.2,520.6 L616.3,520.5 L618.4,519.3 L620.4,518.7 L622.5,518.5 L624.4,519.5 L626.3,519.3 L628.0,519.3 L629.6,517.9 L631.3,518.0 L633.4,518.8 L635.4,519.3 L637.5,519.0 L639.6,519.5 L641.7,519.3 L643.8,519.8 L645.8,520.0 L647.8,519.6 L649.8,519.6 L651.8,520.5 L651.8,532.5 L11.5,532.5 Z" fill="url(#gN)"/>
<path d="M11.5,528.8 L13.1,528.7 L14.8,528.6 L16.4,528.9 L18.1,528.5 L19.7,528.8 L21.4,528.7 L23.0,528.8 L24.7,528.1 L26.3,527.9 L28.0,527.5 L29.9,527.3 L31.8,527.7 L33.6,527.6 L35.5,528.0 L37.6,527.4 L39.7,527.2 L41.8,526.8 L43.9,526.6 L45.9,525.7 L48.0,525.5 L50.2,524.3 L52.5,523.8 L54.3,524.2 L56.2,524.9 L58.0,524.5 L59.9,524.1 L61.8,523.5 L63.6,521.9 L65.5,520.5 L68.5,518.5 L70.2,519.7 L71.8,519.5 L73.4,517.5 L75.0,516.8 L78.0,512.5 L81.0,509.3 L83.8,511.0 L86.3,509.8 L89.3,512.3 L90.9,512.6 L92.5,511.8 L95.5,514.0 L98.0,512.5 L101.0,514.3 L102.7,513.1 L104.3,512.5 L105.9,513.3 L107.5,515.0 L110.5,511.3 L113.5,513.0 L115.2,511.2 L116.8,510.5 L118.4,510.7 L120.0,511.5 L122.5,513.0 L125.5,508.0 L127.8,505.7 L130.0,502.5 L133.0,506.0 L135.5,505.0 L138.5,507.5 L141.0,506.0 L143.0,515.5 L144.9,516.3 L146.8,518.0 L148.7,517.3 L150.5,516.3 L152.4,517.6 L154.3,518.5 L156.2,518.7 L158.0,519.3 L159.7,520.4 L161.3,520.8 L163.0,522.5 L164.7,521.2 L166.3,520.8 L168.0,520.5 L169.7,520.6 L171.3,520.1 L173.0,520.0 L174.9,520.4 L176.8,521.4 L178.6,521.8 L180.5,522.5 L182.4,521.8 L184.4,522.1 L186.3,521.3 L188.0,520.6 L189.6,519.1 L191.3,518.5 L193.0,518.0 L194.6,517.4 L196.3,516.8 L198.2,515.4 L200.0,513.0 L201.9,514.0 L203.8,514.3 L206.1,512.8 L208.3,511.8 L210.4,513.7 L212.5,514.3 L214.4,514.1 L216.3,515.0 L218.2,516.6 L220.0,518.5 L221.9,518.0 L223.8,516.8 L225.5,515.7 L227.1,515.6 L228.8,515.0 L230.7,514.4 L232.5,515.0 L234.8,514.0 L237.0,512.5 L239.2,513.8 L241.3,514.3 L243.2,514.8 L245.0,515.0 L247.2,514.3 L249.5,512.5 L252.5,513.5 L255.0,515.0 L256.7,513.7 L258.3,513.1 L260.0,511.8 L261.9,512.8 L263.8,513.5 L265.6,515.6 L267.5,517.5 L269.2,517.9 L270.8,518.8 L272.5,518.8 L274.2,519.4 L275.8,518.8 L277.5,518.8 L279.2,519.0 L280.8,518.2 L282.5,518.8 L284.2,519.6 L285.8,520.1 L287.5,520.5 L289.2,521.4 L290.8,521.3 L292.5,521.0 L294.4,522.1 L296.3,523.8 L298.2,523.6 L300.1,524.0 L301.9,523.1 L303.8,523.8 L306.1,522.3 L308.3,521.0 L311.3,522.3 L313.0,522.1 L314.6,522.2 L316.3,523.0 L318.2,522.4 L320.1,523.4 L321.9,522.5 L323.8,523.0 L325.5,522.5 L327.3,522.6 L329.0,523.1 L330.8,521.9 L332.5,522.3 L334.4,522.1 L336.2,522.1 L338.1,522.5 L340.0,521.8 L341.9,522.4 L343.8,522.7 L345.6,522.0 L347.5,522.5 L349.4,522.8 L351.2,523.2 L353.1,524.4 L355.0,524.3 L356.7,524.6 L358.3,524.1 L360.0,524.3 L361.9,525.4 L363.8,526.8 L365.7,526.6 L367.5,526.5 L369.4,526.6 L371.3,526.7 L373.1,526.4 L375.0,526.5 L376.7,526.4 L378.3,526.8 L380.0,526.9 L381.7,527.2 L383.3,527.6 L385.0,527.5 L386.7,527.6 L388.3,527.5 L390.0,527.6 L391.7,527.6 L393.3,527.2 L395.0,527.7 L396.7,527.7 L398.3,527.7 L400.0,527.7 L401.7,527.4 L403.3,527.4 L405.0,527.3 L406.7,527.6 L408.3,527.2 L410.0,527.5 L411.8,527.1 L413.6,527.1 L415.4,527.0 L417.1,527.0 L418.9,526.7 L420.7,526.6 L422.5,526.8 L424.3,526.7 L426.1,526.8 L427.9,527.0 L429.6,526.9 L431.4,527.5 L433.2,527.5 L435.0,527.5 L436.7,527.3 L438.3,527.3 L440.0,527.3 L441.7,527.3 L443.3,527.1 L445.0,527.5 L446.7,527.6 L448.3,527.2 L450.0,527.2 L451.7,526.9 L453.3,526.9 L455.0,527.0 L456.7,526.9 L458.3,527.2 L460.0,527.0 L461.7,526.7 L463.4,526.5 L465.2,527.0 L466.9,526.7 L468.6,526.4 L470.4,526.5 L472.1,526.1 L473.8,526.3 L475.6,526.8 L477.5,527.3 L479.2,527.6 L480.8,527.6 L482.5,527.5 L484.2,527.3 L485.8,527.4 L487.5,527.4 L489.2,527.8 L490.8,527.7 L492.5,527.8 L494.2,527.6 L495.8,527.6 L497.5,527.8 L499.2,528.0 L501.0,528.1 L502.8,528.1 L504.5,528.1 L506.2,528.1 L508.0,528.1 L509.8,527.8 L511.5,528.0 L513.2,527.9 L515.0,528.0 L516.9,527.5 L518.8,527.2 L520.6,527.1 L522.5,527.0 L524.4,526.3 L526.2,526.0 L528.1,525.6 L530.0,524.8 L531.7,525.0 L533.3,525.5 L535.0,525.5 L536.9,525.6 L538.8,525.4 L540.6,524.9 L542.5,524.8 L544.3,524.9 L546.0,525.1 L547.8,525.3 L549.5,525.6 L551.3,526.0 L553.0,525.5 L554.6,525.1 L556.3,524.3 L558.4,524.6 L560.4,523.9 L562.5,523.8 L564.4,523.4 L566.2,523.0 L568.1,521.3 L570.0,521.3 L571.7,520.4 L573.3,519.7 L575.0,518.0 L576.9,519.3 L578.8,519.8 L580.6,519.7 L582.5,518.8 L584.4,519.3 L586.3,519.8 L588.0,520.0 L589.6,521.5 L591.3,521.8 L593.0,521.1 L594.6,521.4 L596.3,520.5 L598.1,521.6 L600.0,521.3 L601.9,520.4 L603.8,519.8 L605.9,520.5 L607.9,522.1 L610.0,522.3 L612.1,522.0 L614.2,520.6 L616.3,520.5 L618.4,519.3 L620.4,518.7 L622.5,518.5 L624.4,519.5 L626.3,519.3 L628.0,519.3 L629.6,517.9 L631.3,518.0 L633.4,518.8 L635.4,519.3 L637.5,519.0 L639.6,519.5 L641.7,519.3 L643.8,519.8 L645.8,520.0 L647.8,519.6 L649.8,519.6 L651.8,520.5" fill="none" stroke="#4d70e2" stroke-width="1.3" stroke-linejoin="round"/>
<rect x="643.8" y="503" width="13.2" height="20" rx="6.6" fill="#252a3b"/>
<path d="M648.6,509.6 V516.4 M651.6,509.6 V516.4" stroke="#dfe2ea" stroke-width="1.1" fill="none"/>
</svg>
</body></html>
